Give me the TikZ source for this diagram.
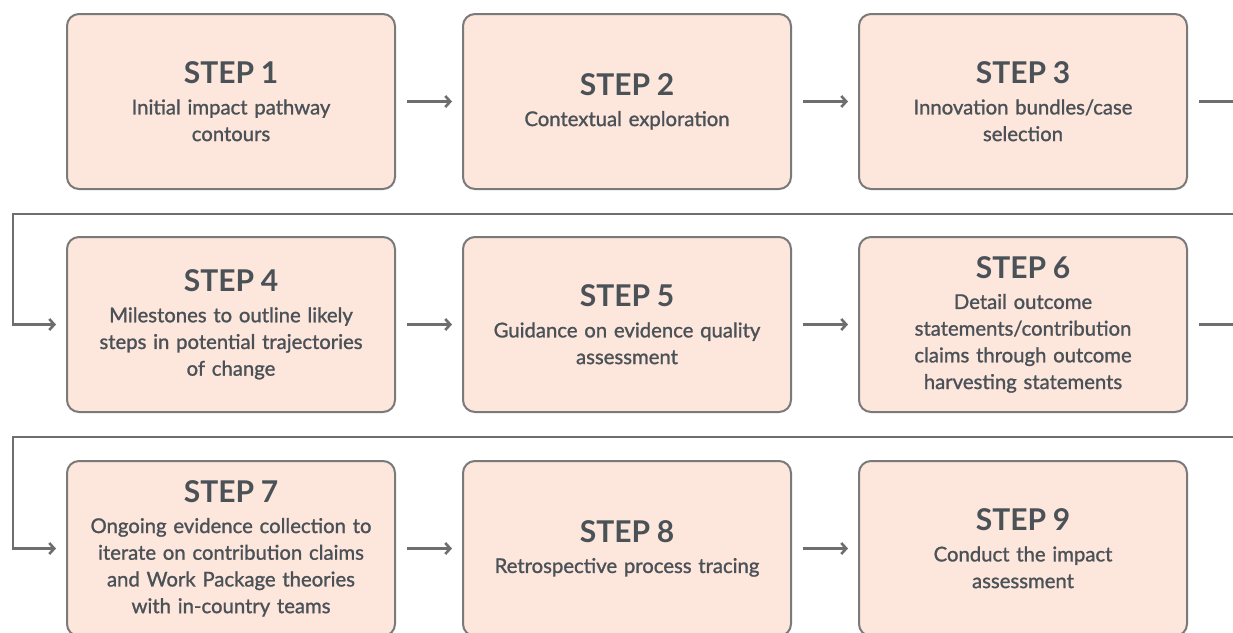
\documentclass[tikz,border=0pt]{standalone}
\usepackage{fontspec}
\setmainfont{Lato}
\newfontfamily\bodyfont{Lato}[FakeBold=1.2]
\usetikzlibrary{arrows.meta}
\definecolor{boxfill}{HTML}{FDE6DB}
\definecolor{boxline}{HTML}{7A7A7A}
\definecolor{txt}{HTML}{4A5157}
\definecolor{conncol}{HTML}{6E6E6E}
\tikzset{
  stepbox/.style={draw=boxline, fill=boxfill, line width=2pt, rounded corners=12pt,
    minimum width=328pt, minimum height=175pt, text width=320pt, align=center,
    text=txt, inner sep=0pt, font=\bodyfont\fontsize{20.3}{26.7}\selectfont},
  conn/.style={draw=conncol, line width=2.6pt},
  arr/.style={conn, -{Straight Barb[length=5pt,width=11pt,line width=2.6pt]}},
}
\newcommand{\steptitle}[1]{{\fontsize{30}{31}\selectfont\rmfamily\bfseries #1}\\[4pt]}
\begin{document}
\begin{tikzpicture}[x=1pt,y=1pt]
\useasboundingbox (0,0) rectangle (1233,-632);
\fill[white] (0,0) rectangle (1233,-632);
% row 1
\node[stepbox] (s1) at (231,-101.5) {\steptitle{STEP 1}Initial impact pathway\\contours};
\node[stepbox] (s2) at (627,-101.5) {\steptitle{STEP 2}Contextual exploration};
\node[stepbox] (s3) at (1023,-101.5) {\steptitle{STEP 3}Innovation bundles/case\\selection};
% row 2
\node[stepbox] (s4) at (231,-324.5) {\steptitle{STEP 4}Milestones to outline likely\\steps in potential trajectories\\of change};
\node[stepbox] (s5) at (627,-324.5) {\steptitle{STEP 5}Guidance on evidence quality\\assessment};
\node[stepbox] (s6) at (1023,-324.5) {\steptitle{STEP 6}Detail outcome\\statements/contribution\\claims through outcome\\harvesting statements};
% row 3
\node[stepbox] (s7) at (231,-548.5) {\steptitle{STEP 7}Ongoing evidence collection to\\iterate on contribution claims\\and Work Package theories\\with in-country teams};
\node[stepbox] (s8) at (627,-548.5) {\steptitle{STEP 8}Retrospective process tracing};
\node[stepbox] (s9) at (1023,-548.5) {\steptitle{STEP 9}Conduct the impact\\assessment};
% horizontal arrows
\draw[arr, shorten <=11pt, shorten >=10pt] (s1.east) -- (s2.west);
\draw[arr, shorten <=11pt, shorten >=10pt] (s2.east) -- (s3.west);
\draw[arr, shorten <=11pt, shorten >=10pt] (s4.east) -- (s5.west);
\draw[arr, shorten <=11pt, shorten >=10pt] (s5.east) -- (s6.west);
\draw[arr, shorten <=11pt, shorten >=10pt] (s7.east) -- (s8.west);
\draw[arr, shorten <=11pt, shorten >=10pt] (s8.east) -- (s9.west);
% exits to the right
\coordinate (out3) at (1236,-101.5);
\coordinate (out6) at (1236,-324.5);
\draw[conn, shorten <=11pt] (s3.east) -- (out3);
\draw[conn, shorten <=11pt] (s6.east) -- (out6);
% wrap-around connectors
\coordinate (in4) at (1236,-214);
\coordinate (c4) at (13,-214);
\coordinate (in7) at (1236,-437);
\coordinate (c7) at (13,-437);
\draw[arr, shorten >=10pt] (in4) -- (c4) |- (s4.west);
\draw[arr, shorten >=10pt] (in7) -- (c7) |- (s7.west);
\end{tikzpicture}
\end{document}
